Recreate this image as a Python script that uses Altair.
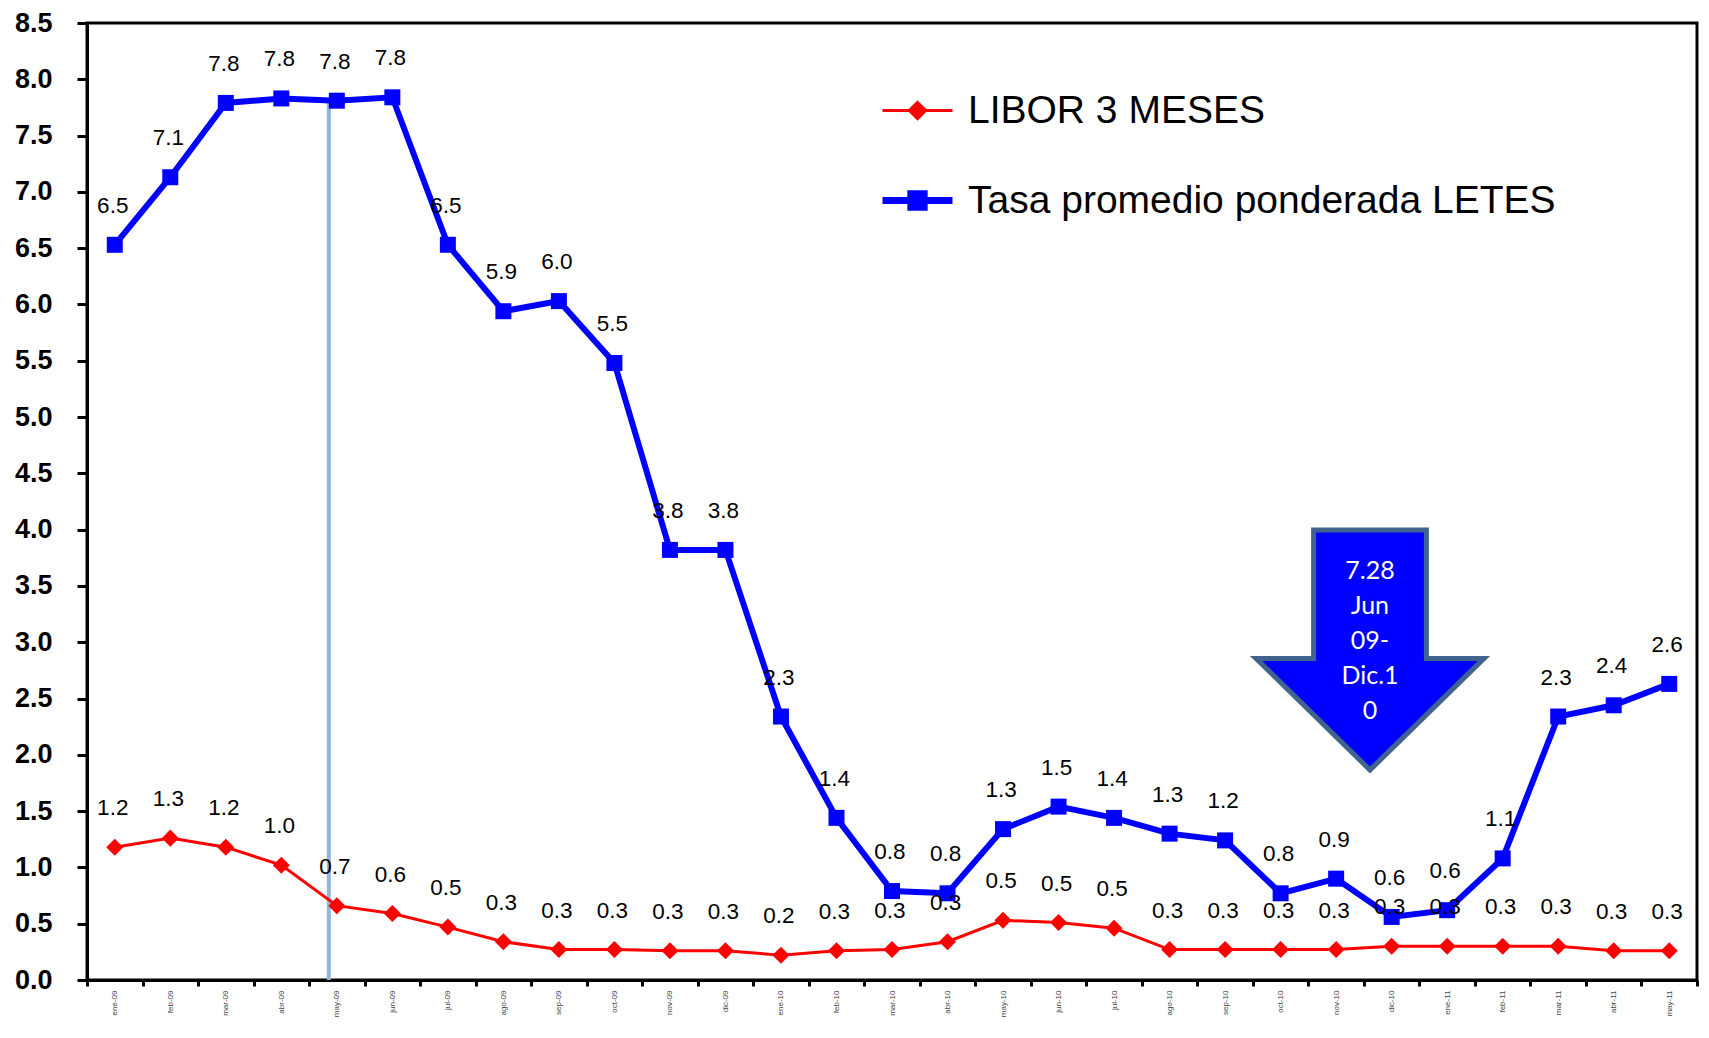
import altair as alt
import pandas as pd

meses = ["ene-09", "feb-09", "mar-09", "abr-09", "may-09", "jun-09", "jul-09", "ago-09",
         "sep-09", "oct-09", "nov-09", "dic-09", "ene-10", "feb-10", "mar-10", "abr-10",
         "may-10", "jun-10", "jul-10", "ago-10", "sep-10", "oct-10", "nov-10", "dic-10",
         "ene-11", "feb-11", "mar-11", "abr-11", "may-11"]

libor = [1.18, 1.26, 1.18, 1.02, 0.66, 0.59, 0.47, 0.34, 0.27, 0.27, 0.26, 0.26, 0.22, 0.26,
         0.27, 0.34, 0.53, 0.51, 0.46, 0.27, 0.27, 0.27, 0.27, 0.30, 0.30, 0.30, 0.30, 0.26, 0.26]

letes = [6.53, 7.13, 7.79, 7.83, 7.81, 7.84, 6.53, 5.94, 6.03, 5.48, 3.82, 3.82, 2.34, 1.44,
         0.79, 0.77, 1.34, 1.54, 1.44, 1.30, 1.24, 0.77, 0.90, 0.56, 0.62, 1.08, 2.34, 2.44, 2.63]

series = ["LIBOR 3 MESES", "Tasa promedio ponderada LETES"]
colores = ["#FF0000", "#0000FF"]
y_ticks = [0.0, 0.5, 1.0, 1.5, 2.0, 2.5, 3.0, 3.5, 4.0, 4.5, 5.0, 5.5, 6.0, 6.5, 7.0, 7.5, 8.0, 8.5]
marca_mes = "may-09"
flecha_texto = ["7.28", "Jun", "09-", "Dic.1", "0"]

df = pd.DataFrame({
    "mes": meses * 2,
    "serie": [series[0]] * len(meses) + [series[1]] * len(meses),
    "valor": libor + letes,
})

FONT = "Liberation Sans"

x_enc = alt.X("mes:N", sort=meses,
              scale=alt.Scale(type="band", paddingInner=0, paddingOuter=0),
              axis=alt.Axis(title=None, tickBand="extent", tickSize=6, tickWidth=3,
                            tickColor="black", domainColor="black", domainWidth=3,
                            labelAngle=-90, labelFontSize=8, labelColor="#444444",
                            labelFont=FONT, labelPadding=4))
y_enc = alt.Y("valor:Q",
              scale=alt.Scale(domain=[0, 8.5], nice=False, zero=True),
              axis=alt.Axis(title=None, values=y_ticks, format=".1f", grid=False,
                            labelFont=FONT, labelFontWeight="bold", labelFontSize=27,
                            labelColor="black", labelPadding=25, tickSize=10, tickWidth=3,
                            tickColor="black", domainColor="black", domainWidth=3))

base = alt.Chart(df)

rule = base.transform_filter(
    (alt.datum.serie == series[1]) & (alt.datum.mes == marca_mes)
).mark_rule(color="#95B3D7", strokeWidth=4, xOffset=-8).encode(
    x=x_enc, y=y_enc, y2=alt.datum(0))

red = base.transform_filter(alt.datum.serie == series[0])
blue = base.transform_filter(alt.datum.serie == series[1])

red_line = red.mark_line(color=colores[0], strokeWidth=3).encode(x=x_enc, y=y_enc)
blue_line = blue.mark_line(color=colores[1], strokeWidth=6).encode(x=x_enc, y=y_enc)
red_pts = red.mark_point(shape="diamond", filled=True, color=colores[0], size=290,
                         opacity=1).encode(x=x_enc, y=y_enc)
blue_pts = blue.mark_point(shape="square", filled=True, color=colores[1], size=256,
                           opacity=1).encode(x=x_enc, y=y_enc)

txt_props = dict(font=FONT, fontSize=22.5, color="black", baseline="alphabetic",
                 align="center", dx=-2, dy=-32)
red_txt = red.mark_text(**txt_props).encode(x=x_enc, y=y_enc,
                                            text=alt.Text("valor:Q", format=".1f"))
blue_txt = blue.mark_text(**txt_props).encode(x=x_enc, y=y_enc,
                                              text=alt.Text("valor:Q", format=".1f"))

legend = alt.Legend(title=None, orient="none", legendX=792, legendY=51, padding=0,
                    symbolSize=4900, symbolOpacity=1, labelFont=FONT, labelFontSize=39,
                    labelColor="black", labelOffset=12, labelLimit=0, rowPadding=31)
path_libor = "M-1,0H1M0,-0.23L0.23,0L0,0.23L-0.23,0Z"
path_letes = "M-1,0H1M-0.19,-0.19H0.19V0.19H-0.19Z"
leg_layer = base.mark_point(filled=True, opacity=0).encode(
    x=x_enc, y=y_enc,
    fill=alt.Fill("serie:N", scale=alt.Scale(domain=series, range=colores), legend=legend),
    stroke=alt.Stroke("serie:N", scale=alt.Scale(domain=series, range=colores), legend=legend),
    shape=alt.Shape("serie:N", scale=alt.Scale(domain=series, range=[path_libor, path_letes]),
                    legend=legend),
    strokeWidth=alt.StrokeWidth("serie:N", scale=alt.Scale(domain=series, range=[3, 7]),
                                legend=legend),
)

ann = alt.Chart(pd.DataFrame({"etiqueta": ["flecha"]}))
arrow_path = "M-0.47,-1L0.47,-1L0.47,0.07L0.95,0.07L0,1L-0.95,0.07L-0.47,0.07Z"
arrow = ann.mark_point(shape=arrow_path, size=57600, filled=True, fill="#0000FF",
                       stroke="#41648F", strokeWidth=5, opacity=1, fillOpacity=1).encode(
    x=alt.value(1283), y=alt.value(627))
arrow_txt = ann.mark_text(text=flecha_texto, font="Lato", fontSize=25, color="white",
                          lineHeight=35, align="center", baseline="middle").encode(
    x=alt.value(1283), y=alt.value(548))

chart = alt.layer(
    rule, red_line, blue_line, red_pts, blue_pts, red_txt, blue_txt, leg_layer, arrow, arrow_txt
).properties(
    width=1610, height=957,
    padding={"left": 6, "top": 1, "right": 0, "bottom": 0},
    background="white",
).configure_view(stroke="black", strokeWidth=3)

chart.save("out.html", embed_options={"renderer": "svg", "actions": False})
